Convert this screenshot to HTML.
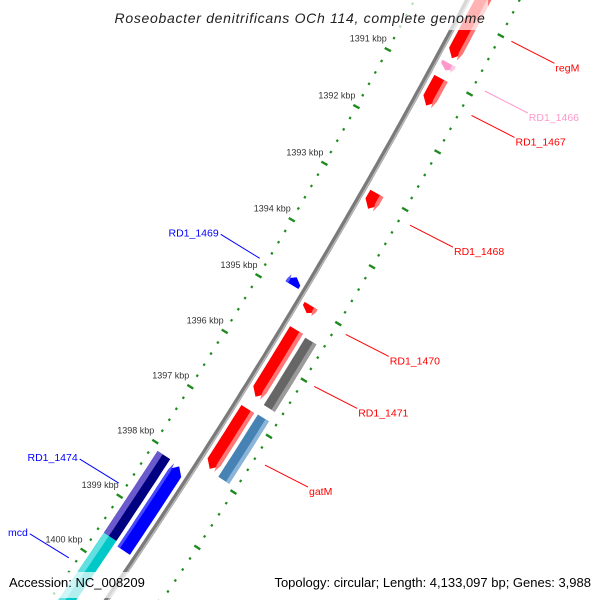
<!DOCTYPE html>
<html><head><meta charset="utf-8"><style>
html,body{margin:0;padding:0;background:#fff;width:600px;height:600px;overflow:hidden;}
svg{display:block;font-family:"Liberation Sans","DejaVu Sans",sans-serif;overflow:hidden;}
</style></head><body>
<svg id="map" width="600" height="600" viewBox="0 0 600 600" xmlns="http://www.w3.org/2000/svg">
<g id="ticks"></g>
<g id="backbone"></g>
<g id="features"></g>
<g id="labels"></g>
<rect x="112" y="0" width="376" height="30" fill="#fff" fill-opacity="0.7"/>
<text x="300" y="23" text-anchor="middle" font-size="14" letter-spacing="0.7" font-style="italic" fill="#222">Roseobacter denitrificans OCh 114, complete genome</text>
<rect x="4" y="572" width="142" height="26" fill="#fff" fill-opacity="0.7"/>
<text x="9" y="587" font-size="13" fill="#000">Accession: NC_008209</text>
<rect x="256" y="572" width="340" height="26" fill="#fff" fill-opacity="0.7"/>
<text x="591" y="587" text-anchor="end" font-size="13" fill="#000">Topology: circular; Length: 4,133,097 bp; Genes: 3,988</text>
</svg>
<script>
// ---- data ----
const tickKbp = [1388,1389,1390,1391,1392,1393,1394,1395,1396,1397,1398,1399,1400,1401,1402];
const tickLabelKbp = [1391,1392,1393,1394,1395,1396,1397,1398,1399,1400];
const geneNames  = ["regM","RD1_1466","RD1_1467","RD1_1468","RD1_1469","RD1_1470","RD1_1471","RD1_1470b","gatM","RD1_1474b","RD1_1474","RD1_1474c","mcd"];
const geneStart  = [1389.0,1390.74,1391.0,1393.0,1394.72,1394.98,1395.41,1395.44,1396.81,1396.82,1398.1,1398.12,1399.6];
const geneEnd    = [1390.65,1390.86,1391.47,1393.27,1394.86,1395.11,1396.6,1396.64,1397.93,1397.9,1399.6,1399.66,1401.5];
const geneLane   = [1,1,1,1,-1,1,1,2,2,1,-2,-1,-2];
const geneStrand = [1,1,1,1,-1,1,1,0,0,1,0,-1,0];
const geneColor  = ["#ff0000","#ff99cc","#ff0000","#ff0000","#0000ff","#ff0000","#ff0000","#666666","#4682b4","#ff0000","#000080","#0000ff","#00c8c8"];
const geneHilite = ["#ff7777","#ffc8e4","#ff7777","#ff7777","#5555ff","#ff7777","#ff7777","#9a9a9a","#8ab4d8","#ff7777","#6a5acd","#4848ff","#60e0e0"];
const labelText  = ["regM","RD1_1466","RD1_1467","RD1_1468","RD1_1469","RD1_1470","RD1_1471","gatM","RD1_1474","mcd"];
const labelColor = ["#ff0000","#ff99cc","#ff0000","#ff0000","#0000ff","#ff0000","#ff0000","#ff0000","#0000ff","#0000ff"];
const labelKbp   = [1390.0,1390.85,1391.27,1393.17,1394.76,1395.08,1396.0,1397.4,1398.84,1400.22];
const labelSide  = [1,1,1,1,-1,1,1,1,-1,-1];
// ---- geometry ----
const CX=-4950, CY=-2851, R=6122, A0=0.49776, DA=0.010723;
const LANES={1:[6,21],2:[25,38],"-1":[-21,-6],"-2":[-40,-25]};
function P(k,off){const a=A0+(k-1391)*DA, r=R+off;return [CX+r*Math.cos(a), CY+r*Math.sin(a)];}
const NS="http://www.w3.org/2000/svg";
function mk(tag,attrs,parent){const e=document.createElementNS(NS,tag);for(const k in attrs)e.setAttribute(k,attrs[k]);parent.appendChild(e);return e;}
function arcPts(k1,k2,off){const pts=[],n=Math.max(2,Math.ceil(Math.abs(k2-k1)*8));for(let i=0;i<=n;i++)pts.push(P(k1+(k2-k1)*i/n,off));return pts;}
function ptsStr(p){return p.map(q=>q[0].toFixed(1)+","+q[1].toFixed(1)).join(" ");}
// ticks
const gT=document.getElementById("ticks");
[-47,46].forEach(function(ring){
  for(let i=0;i<tickKbp.length-1;i++){
    for(let j=0;j<5;j++){
      const k=tickKbp[i]+j*0.2;
      const h=j===0?3.5:1.1;
      const a=P(k,ring-h), b=P(k,ring+h);
      const l=mk("line",{x1:a[0],y1:a[1],x2:b[0],y2:b[1],stroke:"#1f8a1f","stroke-width":2.4},gT);
      
      
    }
  }
});
tickLabelKbp.forEach(function(k){
  const p=P(k,-47);
  const t=mk("text",{x:(p[0]-1).toFixed(1),y:(p[1]-8).toFixed(1),"text-anchor":"end","font-size":"9",fill:"#333"},gT);
  t.textContent=k+" kbp";
  
  
});
// backbone
const gB=document.getElementById("backbone");
const bb=mk("polyline",{points:ptsStr(arcPts(1387,1402,0)),fill:"none",stroke:"#7a7a7a","stroke-width":5},gB);


const bb2=mk("polyline",{points:ptsStr(arcPts(1387,1402,1.5)),fill:"none",stroke:"#b8b8b8","stroke-width":1.5},gB);


// features
const gF=document.getElementById("features");
function shape(s,e,o1,o2,strand){
  const mid=(o1+o2)/2, h=Math.min(0.12,(e-s)*0.6);
  if(strand===1){return arcPts(s,e-h,o2).concat([P(e,mid)]).concat(arcPts(e-h,s,o1));}
  if(strand===-1){return [P(s,mid)].concat(arcPts(s+h,e,o2)).concat(arcPts(e,s+h,o1));}
  return arcPts(s,e,o2).concat(arcPts(e,s,o1));
}
for(let i=0;i<geneNames.length;i++){
  const ln=LANES[geneLane[i]], o1=ln[0], o2=ln[1];
  const g=mk("g",{},gF);
  
  
  const m=mk("polygon",{points:ptsStr(shape(geneStart[i],geneEnd[i],o1,o2,geneStrand[i])),fill:geneColor[i]},g);
  
  
  const hs = geneLane[i]>0 ? [o2-4,o2] : [o1,o1+(geneLane[i]===-2?6:3)];
  const hp=mk("polygon",{points:ptsStr(shape(geneStart[i],geneEnd[i],hs[0],hs[1],geneStrand[i])),fill:geneHilite[i]},g);
  
  
}
// labels
const gL=document.getElementById("labels");
for(let i=0;i<labelText.length;i++){
  const side=labelSide[i];
  const a=P(labelKbp[i], side>0?58:-55);
  const dx=side>0?43:-39, dy=side>0?22:-24;
  const b=[a[0]+dx, a[1]+dy];
  const l=mk("line",{x1:a[0].toFixed(1),y1:a[1].toFixed(1),x2:b[0].toFixed(1),y2:b[1].toFixed(1),stroke:labelColor[i],"stroke-width":1},gL);
  
  
  const t=mk("text",{x:(b[0]+(side>0?1:-2)).toFixed(1),y:(b[1]+(side>0?8:2)).toFixed(1),"text-anchor":side>0?"start":"end","font-size":"10.5",fill:labelColor[i]},gL);
  t.textContent=labelText[i];
  
  
}
</script>
</body></html>
